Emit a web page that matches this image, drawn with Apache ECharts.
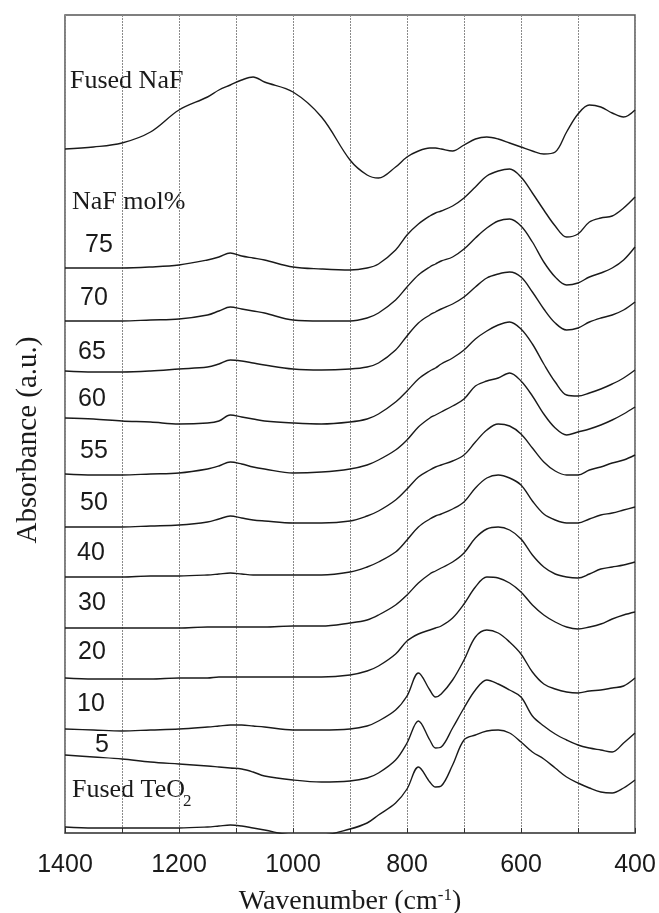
<!DOCTYPE html>
<html>
<head>
<meta charset="utf-8">
<script src="https://cdn.jsdelivr.net/npm/echarts@6/dist/echarts.min.js"></script>
<style>
  html, body { margin: 0; padding: 0; background: #fff; }
  #chart { width: 659px; height: 913px; }
</style>
</head>
<body>
<div id="chart"></div>
<script>
// Wavenumber sampling points (cm-1), shared by every spectrum
const wavenumbers = [1400, 1350, 1300, 1250, 1200, 1150, 1130, 1110, 1090, 1070, 1050, 1000, 950, 900, 870, 850, 820, 800, 780, 760, 750, 740, 720, 700, 680, 660, 640, 620, 600, 580, 560, 540, 520, 500, 480, 460, 440, 420, 400];

// Absorbance (a.u., stacked with vertical offsets)
const fusedNaF = [684, 686, 690, 701, 723, 736, 743, 748, 753, 756, 751, 741, 716, 673, 658, 655, 666, 676, 682, 685, 685, 684, 682, 688, 694, 696, 694, 690, 686, 682, 679, 681, 701, 719, 728, 726, 720, 716, 723];
const naf75 = [565, 565, 565, 566, 568, 573, 576, 580, 577, 575, 573, 566, 564, 563, 565, 569, 583, 598, 609, 617, 620, 622, 627, 635, 646, 657, 662, 664, 656, 640, 623, 607, 596, 599, 611, 615, 617, 625, 636];
const naf70 = [512, 512, 512, 513, 514, 518, 522, 526, 524, 522, 520, 513, 512, 512, 515, 520, 533, 546, 558, 566, 569, 572, 576, 584, 595, 605, 612, 614, 607, 591, 571, 556, 548, 550, 556, 560, 565, 573, 586];
const naf65 = [462, 461, 461, 462, 464, 466, 469, 473, 472, 470, 468, 464, 463, 464, 466, 470, 483, 497, 510, 518, 521, 524, 529, 536, 546, 555, 559, 561, 556, 541, 524, 510, 503, 505, 511, 515, 518, 523, 531];
const naf60 = [415, 414, 412, 411, 409, 410, 412, 418, 416, 414, 412, 410, 409, 411, 414, 419, 431, 442, 454, 462, 465, 469, 475, 483, 494, 502, 508, 511, 504, 489, 469, 451, 438, 437, 440, 444, 449, 455, 463];
const naf55 = [359, 358, 358, 359, 360, 364, 367, 371, 369, 366, 364, 360, 361, 364, 368, 373, 383, 393, 406, 415, 418, 421, 427, 434, 447, 452, 455, 460, 452, 437, 419, 405, 398, 401, 404, 408, 413, 419, 426];
const naf50 = [306, 306, 306, 307, 308, 311, 314, 317, 315, 313, 312, 310, 310, 312, 317, 322, 333, 344, 356, 363, 366, 368, 372, 378, 391, 403, 409, 407, 399, 385, 371, 362, 358, 358, 363, 366, 370, 373, 378];
const naf40 = [256, 256, 256, 257, 257, 258, 259, 260, 259, 258, 258, 258, 258, 261, 266, 271, 281, 293, 306, 314, 317, 319, 324, 331, 345, 355, 358, 355, 348, 332, 319, 313, 310, 310, 314, 318, 320, 323, 326];
const naf30 = [205, 205, 205, 205, 205, 206, 206, 206, 206, 206, 206, 207, 207, 210, 213, 218, 228, 238, 250, 259, 262, 265, 271, 280, 295, 304, 306, 303, 294, 278, 266, 259, 256, 255, 259, 264, 266, 268, 271];
const naf20 = [155, 154, 154, 154, 155, 155, 156, 156, 156, 156, 156, 156, 156, 158, 162, 167, 179, 192, 199, 203, 205, 207, 215, 229, 246, 256, 255, 250, 241, 228, 218, 211, 206, 204, 206, 209, 214, 218, 221];
const naf10 = [104, 103, 102, 103, 104, 106, 107, 108, 108, 107, 106, 103, 103, 104, 107, 112, 123, 137, 160, 143, 136, 139, 153, 173, 196, 203, 200, 191, 179, 161, 149, 144, 141, 140, 142, 143, 145, 147, 155];
const naf5 = [78, 76, 74, 71, 69, 67, 66, 65, 64, 61, 57, 53, 51, 52, 55, 60, 73, 90, 112, 93, 85, 86, 105, 125, 143, 153, 149, 143, 136, 117, 107, 99, 93, 88, 85, 83, 81, 90, 100];
const fusedTeO2 = [6, 5, 5, 5, 5, 6, 7, 8, 7, 5, 3, -2, -2, 4, 10, 18, 30, 44, 66, 51, 46, 47, 68, 93, 98, 102, 103, 100, 91, 81, 74, 65, 56, 50, 45, 41, 40, 45, 53];

const spectra = [
  ['Fused NaF', fusedNaF], ['75', naf75], ['70', naf70], ['65', naf65], ['60', naf60],
  ['55', naf55], ['50', naf50], ['40', naf40], ['30', naf30], ['20', naf20],
  ['10', naf10], ['5', naf5], ['Fused TeO2', fusedTeO2]
];

// Axis range and tick labels
const xMin = 400, xMax = 1400, xStep = 100;
const xTickLabels = [1400, 1200, 1000, 800, 600, 400];
const yMin = 0, yMax = 818;

// Curve annotations
const compLabels = ['75', '70', '65', '60', '55', '50', '40', '30', '20', '10', '5'];
const compLabelPos = [[85, 245], [80, 298], [78, 352], [78, 399], [80, 451], [80, 503], [77, 553], [78, 603], [78, 652], [77, 704], [95, 745]];

const serif = '"Liberation Serif", "Times New Roman", serif';
const sans = '"Liberation Sans", Arial, sans-serif';
const ink = '#1a1a1a';

const chart = echarts.init(document.getElementById('chart'));

const series = spectra.map(([name, vals]) => ({
  name: name,
  type: 'line',
  data: wavenumbers.map((w, i) => [w, vals[i]]),
  smooth: 0.35,
  showSymbol: false,
  clip: true,
  lineStyle: { color: ink, width: 1.4 },
  silent: true
}));

const graphic = [
  { type: 'text', x: 28, y: 440, rotation: Math.PI / 2,
    style: { text: 'Absorbance (a.u.)', font: '29px ' + serif, fill: ink, textAlign: 'center', textVerticalAlign: 'middle' } },
  { type: 'text', x: 70, y: 81, style: { text: 'Fused NaF', font: '26px ' + serif, fill: ink, textVerticalAlign: 'middle' } },
  { type: 'text', x: 72, y: 202, style: { text: 'NaF mol%', font: '26px ' + serif, fill: ink, textVerticalAlign: 'middle' } },
  { type: 'text', x: 72, y: 790, style: { text: 'Fused TeO', font: '26px ' + serif, fill: ink, textVerticalAlign: 'middle' } },
  { type: 'text', x: 183, y: 802, style: { text: '2', font: '17px ' + serif, fill: ink, textVerticalAlign: 'middle' } }
].concat(compLabels.map((t, i) => ({
  type: 'text', x: compLabelPos[i][0], y: compLabelPos[i][1],
  style: { text: t, font: '25px ' + sans, fill: ink, textVerticalAlign: 'middle' }
})));

chart.setOption({
  animation: false,
  backgroundColor: '#fff',
  grid: {
    left: 65, right: 24, top: 15, bottom: 80,
    outerBoundsMode: 'none', containLabel: false,
    show: true, borderColor: '#555', borderWidth: 1.5
  },
  xAxis: {
    type: 'value', min: xMin, max: xMax, interval: xStep, inverse: true,
    name: 'Wavenumber (cm{sup|-1})', nameLocation: 'middle', nameGap: 54,
    nameTextStyle: {
      fontFamily: serif, fontSize: 28, color: ink,
      rich: { sup: { fontFamily: serif, fontSize: 17, color: ink, verticalAlign: 'top', padding: [0, 0, 12, 0] } }
    },
    axisLine: { show: true, lineStyle: { color: '#555', width: 1.5 } },
    axisTick: { show: true, inside: true, length: 5, lineStyle: { color: '#333' } },
    axisLabel: {
      margin: 20, fontFamily: sans, fontSize: 25, color: ink,
      formatter: v => xTickLabels.includes(v) ? String(v) : ''
    },
    splitLine: { show: true, lineStyle: { color: '#8a8a8a', width: 1, type: [2, 1] } }
  },
  yAxis: {
    type: 'value', min: yMin, max: yMax,
    axisLine: { show: false }, axisTick: { show: false }, axisLabel: { show: false },
    splitLine: { show: false }
  },
  series: series,
  graphic: graphic
});
</script>
</body>
</html>
